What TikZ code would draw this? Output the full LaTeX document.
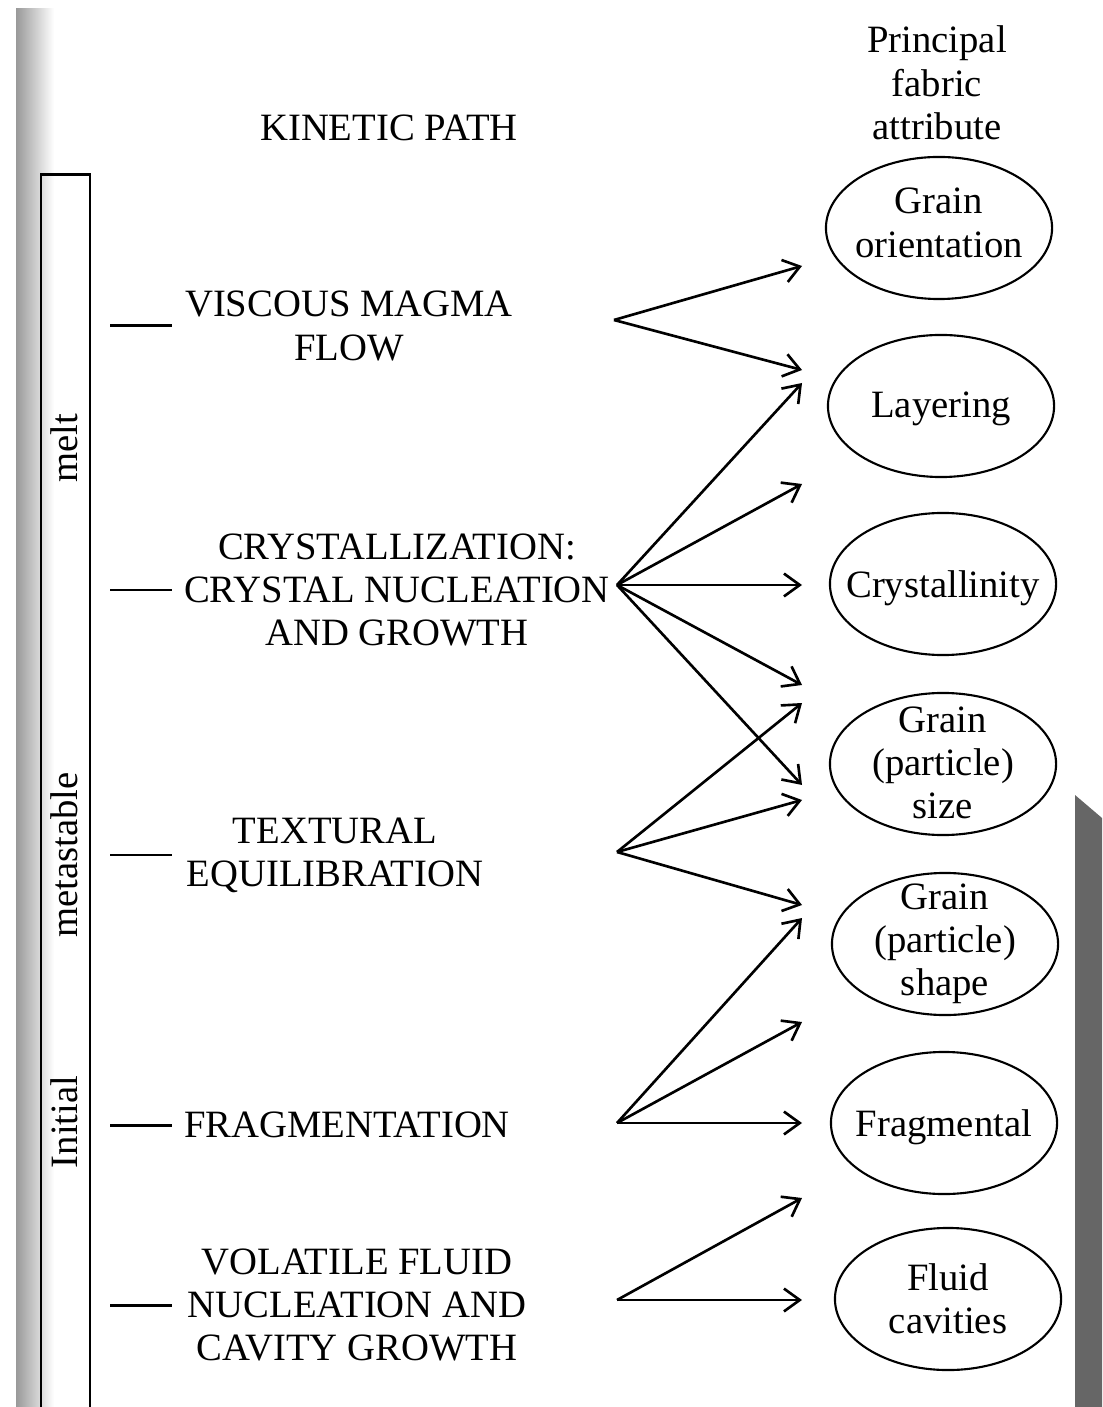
\documentclass[tikz,border=0pt]{standalone}
\usepackage{fontspec}
\setmainfont{Liberation Serif}
\usetikzlibrary{shapes,positioning,calc,arrows.meta}

\begin{document}
\begin{tikzpicture}[
    x=0.01cm, y=-0.01cm,
    >={Straight Barb[length=4.5pt,width=6.5pt]},
    txt/.style={align=center,inner sep=0pt,font=\fontsize{11}{12.3}\selectfont},
    attr/.style={ellipse,draw,line width=0.6pt,minimum width=2.26cm,minimum height=1.42cm},
    flowline/.style={line width=0.75pt},
    tick/.style={line width=0.85pt}
    ]
        \useasboundingbox (0,0) rectangle (1102,1407);
        % page edge and stage bar
        \shade [left color=black!40, right color=white] (16,9) rectangle (54,1407);
        \fill [black!60] (1075,795) -- (1102,818) -- (1102,1407) -- (1075,1407) -- cycle;
        \draw [tick] (41,1407) |- (90,175) -- (90,1407);
        \node [txt,rotate=90] (melt) at (64,448) {melt};
        \node [txt,rotate=90] (meta) at (64,855) {metastable};
        \node [txt,rotate=90] (init) at (64,1122) {Initial};

        % headings
        \node [txt] (kin) at (389,128) {KINETIC PATH};
        \node [txt] (prin) at (937,83) {Principal\\fabric\\attribute};

        % kinetic paths
        \node [txt] (flow) at (349,326) {VISCOUS MAGMA\\FLOW};
        \node [txt] (nucl) at (397,590) {CRYSTALLIZATION:\\CRYSTAL NUCLEATION\\AND GROWTH};
        \node [txt] (equil) at (335,855) {TEXTURAL\\EQUILIBRATION};
        \node [txt] (frag) at (347,1125) {FRAGMENTATION};
        \node [txt] (vol) at (357,1305) {VOLATILE FLUID\\NUCLEATION AND\\CAVITY GROWTH};

        \coordinate (bar) at (110,0);
        \coordinate (barend) at (172,0);
        \draw [tick] (bar |- flow) -- (barend |- flow);
        \draw [tick] (bar |- nucl) -- (barend |- nucl);
        \draw [tick] (bar |- equil) -- (barend |- equil);
        \draw [tick] (bar |- frag) -- (barend |- frag);
        \draw [tick] (bar |- vol) -- (barend |- vol);

        % fabric attributes
        \node [attr] (orient) at (939,228) {};
        \node [attr] (layer) at (941,406) {};
        \node [attr] (cryst) at (943,584) {};
        \node [attr] (size) at (943,764) {};
        \node [attr] (shape) at (945,944) {};
        \node [attr] (fragm) at (944,1123) {};
        \node [attr] (fluid) at (948,1299) {};
        \node [txt] (orient-t) at (939,223) {Grain\\orientation};
        \node [txt] (layer-t) at (941,409) {Layering};
        \node [txt] (cryst-t) at (943,588) {Crystallinity};
        \node [txt] (size-t) at (943,763) {Grain\\(particle)\\size};
        \node [txt] (shape-t) at (945,944) {Grain\\(particle)\\shape};
        \node [txt] (fragm-t) at (944,1127) {Fragmental};
        \node [txt] (fluid-t) at (948,1299) {Fluid\\cavities};

        % arrow origins and tips
        \coordinate (flow-o) at (614,320);
        \coordinate (nucl-o) at (617,585);
        \coordinate (equil-o) at (617,852);
        \coordinate (frag-o) at (617,1123);
        \coordinate (vol-o) at (617,1300);
        \foreach \n/\y in {1/266,2/370,3/383,4/484,5/585,6/685,7/703,8/785,9/800,10/905,11/918,12/1022,13/1123,14/1198,15/1300}
            \coordinate (t\n) at (802,\y);

        \draw [->,flowline] (flow-o) -- (t1);
        \draw [->,flowline] (flow-o) -- (t2);
        \draw [->,flowline] (nucl-o) -- (t3);
        \draw [->,flowline] (nucl-o) -- (t4);
        \draw [->,flowline] (nucl-o) -- (t5);
        \draw [->,flowline] (nucl-o) -- (t6);
        \draw [->,flowline] (nucl-o) -- (t8);
        \draw [->,flowline] (equil-o) -- (t7);
        \draw [->,flowline] (equil-o) -- (t9);
        \draw [->,flowline] (equil-o) -- (t10);
        \draw [->,flowline] (frag-o) -- (t11);
        \draw [->,flowline] (frag-o) -- (t12);
        \draw [->,flowline] (frag-o) -- (t13);
        \draw [->,flowline] (vol-o) -- (t14);
        \draw [->,flowline] (vol-o) -- (t15);
\end{tikzpicture}
\end{document}
